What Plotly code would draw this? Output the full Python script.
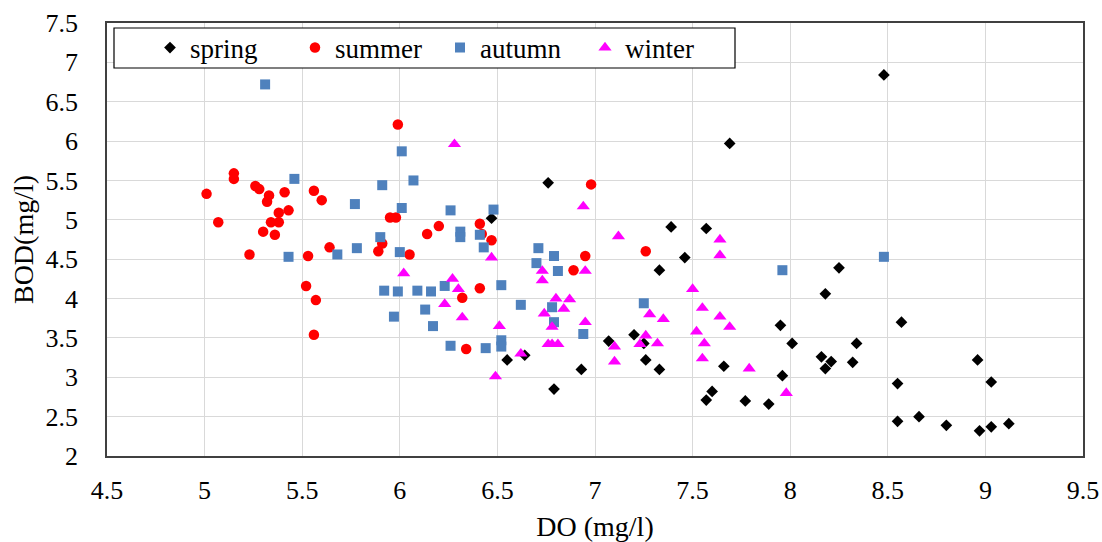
import plotly.graph_objects as go

# ---- data ----
spring_do = [6.47, 6.76, 7.69, 8.48, 7.39, 7.57, 7.46, 7.33, 7.07, 7.20, 7.25, 7.26, 7.33, 6.93,
             6.79, 6.55, 6.64, 7.60, 7.57, 8.25, 8.18, 7.95, 8.57, 8.01, 8.34, 8.16, 8.21, 8.18,
             8.32, 8.96, 7.96, 7.66, 7.77, 7.89, 8.55, 8.55, 8.66, 8.80, 8.97, 9.03, 9.03, 9.12]
spring_bod = [5.02, 5.47, 5.97, 6.84, 4.91, 4.89, 4.52, 4.36, 3.46, 3.54, 3.43, 3.22, 3.10, 3.10,
              2.85, 3.22, 3.28, 2.82, 2.71, 4.39, 4.06, 3.66, 3.70, 3.43, 3.43, 3.26, 3.20, 3.11,
              3.19, 3.22, 3.02, 3.14, 2.70, 2.66, 2.92, 2.44, 2.50, 2.39, 2.32, 2.94, 2.37, 2.41]

summer_do = [5.15, 5.15, 5.01, 5.26, 5.28, 5.33, 5.32, 5.41, 5.56, 5.60, 5.38, 5.43, 5.07, 5.34,
             5.38, 5.30, 5.36, 5.23, 5.53, 5.52, 5.57, 5.56, 5.64, 5.95, 5.98, 5.91, 5.89, 6.05,
             6.14, 6.20, 5.99, 6.98, 6.41, 6.42, 6.47, 6.95, 6.89, 7.26, 6.41, 6.32, 6.34]
summer_bod = [5.59, 5.52, 5.33, 5.43, 5.39, 5.31, 5.23, 5.35, 5.37, 5.25, 5.09, 5.12, 4.97, 4.97,
              4.97, 4.85, 4.81, 4.56, 4.54, 4.16, 3.98, 3.54, 4.65, 5.03, 5.03, 4.70, 4.60, 4.56,
              4.82, 4.92, 6.21, 5.45, 4.95, 4.82, 4.74, 4.54, 4.36, 4.60, 4.13, 4.01, 3.36]

autumn_do = [5.31, 6.01, 5.46, 5.91, 6.07, 5.77, 6.01, 6.26, 6.48, 5.90, 6.00, 5.43, 5.68, 5.78,
             5.92, 5.99, 6.09, 6.16, 6.23, 5.97, 6.13, 6.17, 6.26, 6.31, 6.31, 6.41, 6.43, 6.71,
             6.79, 6.70, 6.81, 6.52, 6.62, 6.78, 6.79, 6.94, 7.25, 6.52, 6.52, 6.44, 7.96, 8.48]
autumn_bod = [6.72, 5.87, 5.52, 5.44, 5.50, 5.20, 5.15, 5.12, 5.13, 4.78, 4.59, 4.53, 4.56, 4.64,
              4.10, 4.09, 4.10, 4.09, 4.16, 3.77, 3.86, 3.65, 3.40, 4.85, 4.78, 4.81, 4.65, 4.64,
              4.54, 4.45, 4.35, 4.17, 3.92, 3.89, 3.70, 3.55, 3.94, 3.47, 3.39, 3.37, 4.36, 4.53]

winter_do = [6.28, 6.94, 6.47, 7.12, 6.73, 6.73, 6.95, 6.27, 6.30, 6.23, 6.32, 6.51, 6.80, 6.87,
             6.84, 6.74, 6.78, 6.95, 6.76, 6.78, 6.81, 6.62, 6.49, 7.10, 7.10, 7.28, 7.35, 7.26,
             7.23, 7.32, 7.50, 7.55, 7.52, 7.56, 7.55, 7.64, 7.64, 7.64, 7.69, 7.79, 7.98, 6.02]
winter_bod = [5.96, 5.17, 4.52, 4.79, 4.35, 4.23, 4.35, 4.25, 4.12, 3.93, 3.76, 3.65, 4.00, 3.99,
              3.87, 3.81, 3.64, 3.70, 3.42, 3.42, 3.42, 3.30, 3.01, 3.39, 3.20, 3.80, 3.74, 3.53,
              3.42, 3.43, 4.12, 3.88, 3.58, 3.43, 3.24, 4.75, 4.55, 3.77, 3.64, 3.11, 2.80, 4.32]

x_ticks = [4.5, 5, 5.5, 6, 6.5, 7, 7.5, 8, 8.5, 9, 9.5]
y_ticks = [2, 2.5, 3, 3.5, 4, 4.5, 5, 5.5, 6, 6.5, 7, 7.5]

FONT = "Liberation Serif"

fig = go.Figure()
fig.add_trace(go.Scatter(x=spring_do, y=spring_bod, mode="markers", name="spring",
                         marker=dict(symbol="diamond", size=9, color="#000000", line=dict(width=0))))
fig.add_trace(go.Scatter(x=summer_do, y=summer_bod, mode="markers", name="summer",
                         marker=dict(symbol="circle", size=10.5, color="#FF0000", line=dict(width=0))))
fig.add_trace(go.Scatter(x=autumn_do, y=autumn_bod, mode="markers", name="autumn",
                         marker=dict(symbol="square", size=10, color="#4F81BD", line=dict(width=0))))
fig.add_trace(go.Scatter(x=winter_do, y=winter_bod, mode="markers", name="winter",
                         marker=dict(symbol="triangle-up", size=11.5, color="#FF00FF", line=dict(width=0))))

L, R, T, B = 107, 19, 23, 86
W, H = 1102, 542
pw, ph = W - L - R, H - T - B


def px2paper_x(px):
    return (px - L) / pw


def py2paper_y(py):
    return 1 - (py - T) / ph


# legend frame
fig.add_shape(type="rect", xref="paper", yref="paper",
              x0=px2paper_x(114), x1=px2paper_x(735), y0=py2paper_y(68), y1=py2paper_y(28),
              line=dict(color="#000000", width=1.2), fillcolor="white", layer="above")

fig.update_layout(
    width=W, height=H,
    margin=dict(l=L, r=R, t=T, b=B, autoexpand=False),
    paper_bgcolor="white", plot_bgcolor="white",
    font=dict(family=FONT, size=26, color="#000000"),
    showlegend=True,
    legend=dict(orientation="h", x=px2paper_x(150), xanchor="left",
                y=py2paper_y(48), yanchor="middle",
                bgcolor="rgba(0,0,0,0)", borderwidth=0,
                font=dict(family=FONT, size=27, color="#000000"),
                entrywidthmode="pixels", entrywidth=100),
    xaxis=dict(range=[4.5, 9.5], tickvals=x_ticks, ticktext=[f"{v:g}" for v in x_ticks],
               showgrid=True, gridcolor="#D9D9D9", gridwidth=1,
               showline=True, linecolor="#404040", linewidth=1.5, mirror=True,
               ticks="", ticklabelstandoff=10, zeroline=False, automargin=False,
               title=dict(text="DO (mg/l)", font=dict(family=FONT, size=28), standoff=14)),
    yaxis=dict(range=[2, 7.5], tickvals=y_ticks, ticktext=[f"{v:g}" for v in y_ticks],
               showgrid=True, gridcolor="#D9D9D9", gridwidth=1,
               showline=True, linecolor="#404040", linewidth=1.5, mirror=True,
               ticks="", ticklabelstandoff=22, zeroline=False, automargin=False,
               title=dict(text="BOD(mg/l)", font=dict(family=FONT, size=28), standoff=4)),
)

# remove the default page margin so the figure sits at the window's top-left corner
fig.write_html("out.html", config={"displayModeBar": False},
               post_script="document.body.style.margin='0';")
